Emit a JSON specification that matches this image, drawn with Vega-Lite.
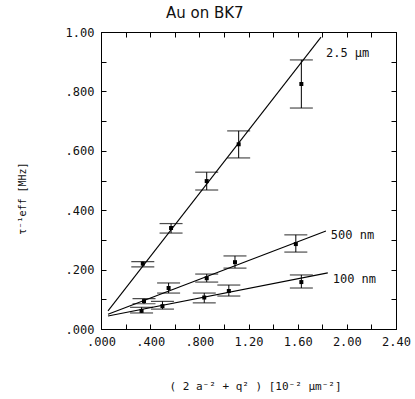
{
  "$schema": "https://vega.github.io/schema/vega-lite/v6.json",
  "width": 295,
  "height": 297,
  "autosize": "none",
  "padding": {"left": 101, "top": 32, "right": 19, "bottom": 70},
  "background": "white",
  "title": {"text": "Au on BK7", "font": "DejaVu Sans", "fontSize": 15, "fontWeight": "normal", "color": "#111", "anchor": "start", "frame": "group", "dx": 65, "offset": 5},
  "config": {
    "view": {"stroke": "black", "strokeWidth": 1},
    "axis": {"grid": false, "domainColor": "black", "tickColor": "black", "labelFont": "DejaVu Sans Mono", "labelFontSize": 12, "labelColor": "#111", "titleFont": "DejaVu Sans Mono", "titleFontWeight": "normal", "titleColor": "#111", "tickSize": -5, "labelPadding": 12}
  },
  "datasets": {
    "pts": [
      {"s": "2.5", "x": 0.34, "y": 0.22, "lo": 0.209, "hi": 0.227},
      {"s": "2.5", "x": 0.57, "y": 0.34, "lo": 0.323, "hi": 0.355},
      {"s": "2.5", "x": 0.86, "y": 0.498, "lo": 0.468, "hi": 0.528},
      {"s": "2.5", "x": 1.12, "y": 0.622, "lo": 0.576, "hi": 0.667},
      {"s": "2.5", "x": 1.63, "y": 0.825, "lo": 0.744, "hi": 0.906},
      {"s": "500", "x": 0.35, "y": 0.094, "lo": 0.085, "hi": 0.102},
      {"s": "500", "x": 0.55, "y": 0.138, "lo": 0.121, "hi": 0.155},
      {"s": "500", "x": 0.86, "y": 0.171, "lo": 0.158, "hi": 0.185},
      {"s": "500", "x": 1.09, "y": 0.225, "lo": 0.205, "hi": 0.246},
      {"s": "500", "x": 1.585, "y": 0.286, "lo": 0.259, "hi": 0.317},
      {"s": "100", "x": 0.33, "y": 0.061, "lo": 0.054, "hi": 0.073},
      {"s": "100", "x": 0.5, "y": 0.077, "lo": 0.067, "hi": 0.093},
      {"s": "100", "x": 0.84, "y": 0.106, "lo": 0.088, "hi": 0.121},
      {"s": "100", "x": 1.04, "y": 0.128, "lo": 0.111, "hi": 0.148},
      {"s": "100", "x": 1.63, "y": 0.158, "lo": 0.138, "hi": 0.182}
    ],
    "fits": [
      {"s": "2.5", "x": 0.057, "y": 0.061},
      {"s": "2.5", "x": 1.79, "y": 0.983},
      {"s": "500", "x": 0.057, "y": 0.05},
      {"s": "500", "x": 1.83, "y": 0.33},
      {"s": "100", "x": 0.057, "y": 0.044},
      {"s": "100", "x": 1.845, "y": 0.189}
    ],
    "labels": [
      {"t": "2.5 µm", "x": 1.83, "y": 0.93},
      {"t": "500 nm", "x": 1.87, "y": 0.317},
      {"t": "100 nm", "x": 1.885, "y": 0.168}
    ]
  },
  "resolve": {"axis": {"x": "independent", "y": "independent"}},
  "layer": [
    {
      "data": {"name": "fits"},
      "mark": {"type": "line", "color": "black", "strokeWidth": 1.1},
      "encoding": {
        "x": {"field": "x", "type": "quantitative", "scale": {"domain": [0, 2.4], "nice": false, "zero": false},
          "axis": {"orient": "bottom", "values": [0, 0.2, 0.4, 0.6, 0.8, 1.0, 1.2, 1.4, 1.6, 1.8, 2.0, 2.2, 2.4], "labelExpr": "round(datum.value*10) % 4 == 0 ? (datum.value < 1 ? replace(format(datum.value, '.3f'), '0.', '.') : format(datum.value, '.2f')) : ''", "labelFlush": false, "labelOverlap": false,
            "title": "( 2 a⁻² + q² )  [10⁻² µm⁻²]", "titleFontSize": 11, "titleBaseline": "middle", "titleY": 57, "titleX": 154}},
        "y": {"field": "y", "type": "quantitative", "scale": {"domain": [0, 1], "nice": false, "zero": false},
          "axis": {"orient": "left", "values": [0, 0.1, 0.2, 0.3, 0.4, 0.5, 0.6, 0.7, 0.8, 0.9, 1.0], "labelExpr": "round(datum.value*10) % 2 == 0 ? (datum.value < 1 ? replace(format(datum.value, '.3f'), '0.', '.') : format(datum.value, '.2f')) : ''", "labelFlush": false, "labelOverlap": false,
            "title": "τ⁻¹eff  [MHz]", "titleFontSize": 10, "titleBaseline": "middle", "titleX": -79, "titleY": 166}},
        "detail": {"field": "s"}
      }
    },
    {
      "data": {"name": "pts"},
      "mark": {"type": "rule", "color": "black", "strokeWidth": 1},
      "encoding": {
        "x": {"field": "x", "type": "quantitative", "scale": {"domain": [0, 2.4], "nice": false, "zero": false}, "axis": null},
        "y": {"field": "lo", "type": "quantitative", "scale": {"domain": [0, 1], "nice": false, "zero": false}, "axis": null},
        "y2": {"field": "hi"}
      }
    },
    {
      "data": {"name": "pts"},
      "mark": {"type": "tick", "orient": "horizontal", "color": "black", "size": 23, "thickness": 1.2},
      "encoding": {
        "x": {"field": "x", "type": "quantitative", "scale": {"domain": [0, 2.4], "nice": false, "zero": false}, "axis": null},
        "y": {"field": "hi", "type": "quantitative", "scale": {"domain": [0, 1], "nice": false, "zero": false}, "axis": null}
      }
    },
    {
      "data": {"name": "pts"},
      "mark": {"type": "tick", "orient": "horizontal", "color": "black", "size": 23, "thickness": 1.2},
      "encoding": {
        "x": {"field": "x", "type": "quantitative", "scale": {"domain": [0, 2.4], "nice": false, "zero": false}, "axis": null},
        "y": {"field": "lo", "type": "quantitative", "scale": {"domain": [0, 1], "nice": false, "zero": false}, "axis": null}
      }
    },
    {
      "data": {"name": "pts"},
      "mark": {"type": "point", "shape": "square", "filled": true, "color": "black", "size": 16, "opacity": 1},
      "encoding": {
        "x": {"field": "x", "type": "quantitative", "scale": {"domain": [0, 2.4], "nice": false, "zero": false}, "axis": null},
        "y": {"field": "y", "type": "quantitative", "scale": {"domain": [0, 1], "nice": false, "zero": false}, "axis": null}
      }
    },
    {
      "data": {"name": "labels"},
      "mark": {"type": "text", "align": "left", "baseline": "middle", "font": "DejaVu Sans Mono", "fontSize": 12, "color": "#111"},
      "encoding": {
        "x": {"field": "x", "type": "quantitative", "scale": {"domain": [0, 2.4], "nice": false, "zero": false}, "axis": null},
        "y": {"field": "y", "type": "quantitative", "scale": {"domain": [0, 1], "nice": false, "zero": false}, "axis": null},
        "text": {"field": "t"}
      }
    },
    {
      "data": {"name": "fits"},
      "mark": {"type": "point", "opacity": 0},
      "encoding": {
        "x": {"field": "x", "type": "quantitative", "scale": {"domain": [0, 2.4], "nice": false, "zero": false},
          "axis": {"orient": "top", "values": [0, 0.2, 0.4, 0.6, 0.8, 1.0, 1.2, 1.4, 1.6, 1.8, 2.0, 2.2, 2.4], "labels": false, "title": null}},
        "y": {"field": "y", "type": "quantitative", "scale": {"domain": [0, 1], "nice": false, "zero": false},
          "axis": {"orient": "right", "values": [0, 0.1, 0.2, 0.3, 0.4, 0.5, 0.6, 0.7, 0.8, 0.9, 1.0], "labels": false, "title": null}}
      }
    }
  ]
}
